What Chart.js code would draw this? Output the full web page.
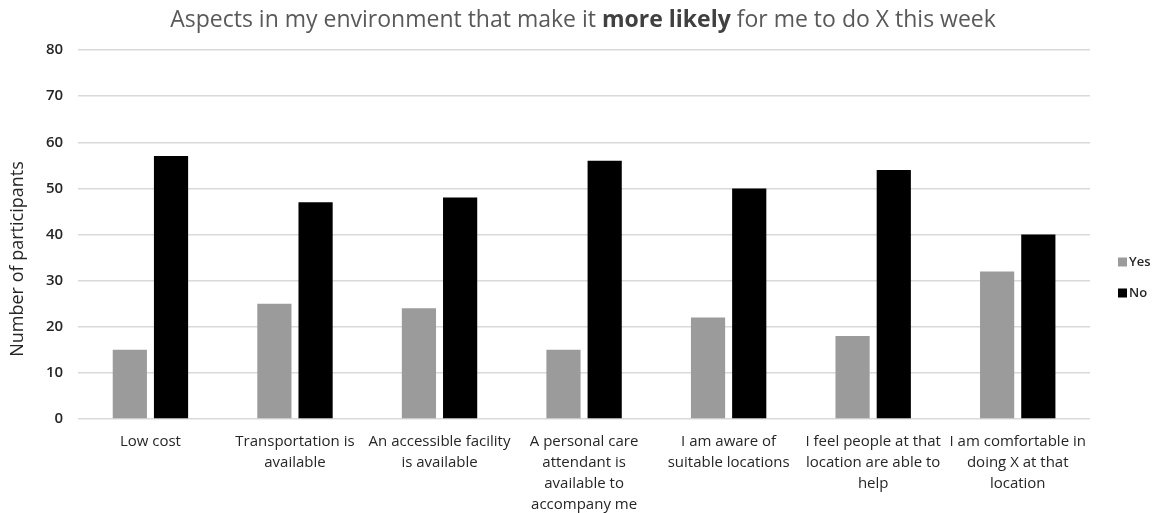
<!DOCTYPE html>
<html>
<head>
<meta charset="utf-8">
<script src="https://cdn.jsdelivr.net/npm/chart.js@4"></script>
<style>
  html, body { margin: 0; padding: 0; background: #ffffff; }
  #wrap { width: 1162px; height: 513px; }
</style>
</head>
<body>
<div id="wrap"><canvas id="c" width="1162" height="513"></canvas></div>
<script>
const categories = [
  ["Low cost"],
  ["Transportation is", "available"],
  ["An accessible facility", "is available"],
  ["A personal care", "attendant is", "available to", "accompany me"],
  ["I am aware of", "suitable locations"],
  ["I feel people at that", "location are able to", "help"],
  ["I am comfortable in", "doing X at that", "location"]
];
const yesValues = [15, 25, 24, 15, 22, 18, 32];
const noValues  = [57, 47, 48, 56, 50, 54, 40];
const seriesNames = ["Yes", "No"];
const yTicks = [0, 10, 20, 30, 40, 50, 60, 70, 80];
const titleParts = [
  { text: "Aspects in my environment that make it ", bold: false },
  { text: "more likely", bold: true },
  { text: " for me to do X this week", bold: false }
];
const yAxisTitle = "Number of participants";

const FONT = "'Open Sans', Lato, sans-serif";

const titlePlugin = {
  id: 'mixedTitle',
  afterDraw(chart) {
    const ctx = chart.ctx;
    ctx.save();
    ctx.textBaseline = 'middle';
    const size = 23;
    let total = 0;
    const widths = titleParts.map(p => {
      ctx.font = (p.bold ? 'bold ' : '') + size + 'px ' + FONT;
      const w = ctx.measureText(p.text).width;
      total += w;
      return w;
    });
    let x = 583 - total / 2;
    titleParts.forEach((p, i) => {
      ctx.font = (p.bold ? 'bold ' : '') + size + 'px ' + FONT;
      ctx.fillStyle = p.bold ? '#404040' : '#595959';
      ctx.fillText(p.text, x, 20);
      x += widths[i];
    });
    ctx.restore();
  }
};

const yTitlePlugin = {
  id: 'yTitle',
  afterDraw(chart) {
    const ctx = chart.ctx;
    ctx.save();
    ctx.translate(18, 259);
    ctx.rotate(-Math.PI / 2);
    ctx.textAlign = 'center';
    ctx.textBaseline = 'middle';
    ctx.font = '18px ' + FONT;
    ctx.fillStyle = '#262626';
    ctx.fillText(yAxisTitle, 0, 0);
    ctx.restore();
  }
};

const legendPlugin = {
  id: 'sideLegend',
  afterDraw(chart) {
    const ctx = chart.ctx;
    ctx.save();
    ctx.textBaseline = 'middle';
    ctx.font = '600 13px ' + FONT;
    const x0 = 1118;
    const ys = [262, 293];
    chart.data.datasets.forEach((ds, i) => {
      ctx.fillStyle = ds.backgroundColor;
      ctx.fillRect(x0, ys[i] - 4.5, 9, 9);
      ctx.fillStyle = '#262626';
      ctx.fillText(ds.label, x0 + 11, ys[i]);
    });
    ctx.restore();
  }
};

new Chart(document.getElementById('c'), {
  type: 'bar',
  data: {
    labels: categories,
    datasets: [
      { label: seriesNames[0], data: yesValues, backgroundColor: '#9b9b9b' },
      { label: seriesNames[1], data: noValues, backgroundColor: '#000000' }
    ]
  },
  options: {
    responsive: false,
    animation: false,
    devicePixelRatio: 1,
    layout: { padding: { top: 50, right: 72, bottom: -6, left: 31 } },
    plugins: {
      legend: { display: false },
      title: { display: false },
      tooltip: { enabled: false }
    },
    datasets: {
      bar: { categoryPercentage: 0.57, barPercentage: 0.83 }
    },
    scales: {
      x: {
        grid: { display: false },
        border: { display: false },
        ticks: {
          color: '#262626',
          font: { family: FONT, size: 15, lineHeight: 1.4 },
          padding: 4,
          maxRotation: 0,
          autoSkip: false
        }
      },
      y: {
        min: 0,
        max: 80,
        afterBuildTicks(scale) { scale.ticks = yTicks.map(v => ({ value: v })); },
        grid: { color: '#d9d9d9', lineWidth: 1.5, drawTicks: false },
        border: { display: false },
        ticks: {
          color: '#262626',
          font: { family: FONT, size: 15, weight: '600' },
          padding: 15
        },
        title: { display: false }
      }
    }
  },
  plugins: [titlePlugin, yTitlePlugin, legendPlugin]
});
</script>
</body>
</html>
